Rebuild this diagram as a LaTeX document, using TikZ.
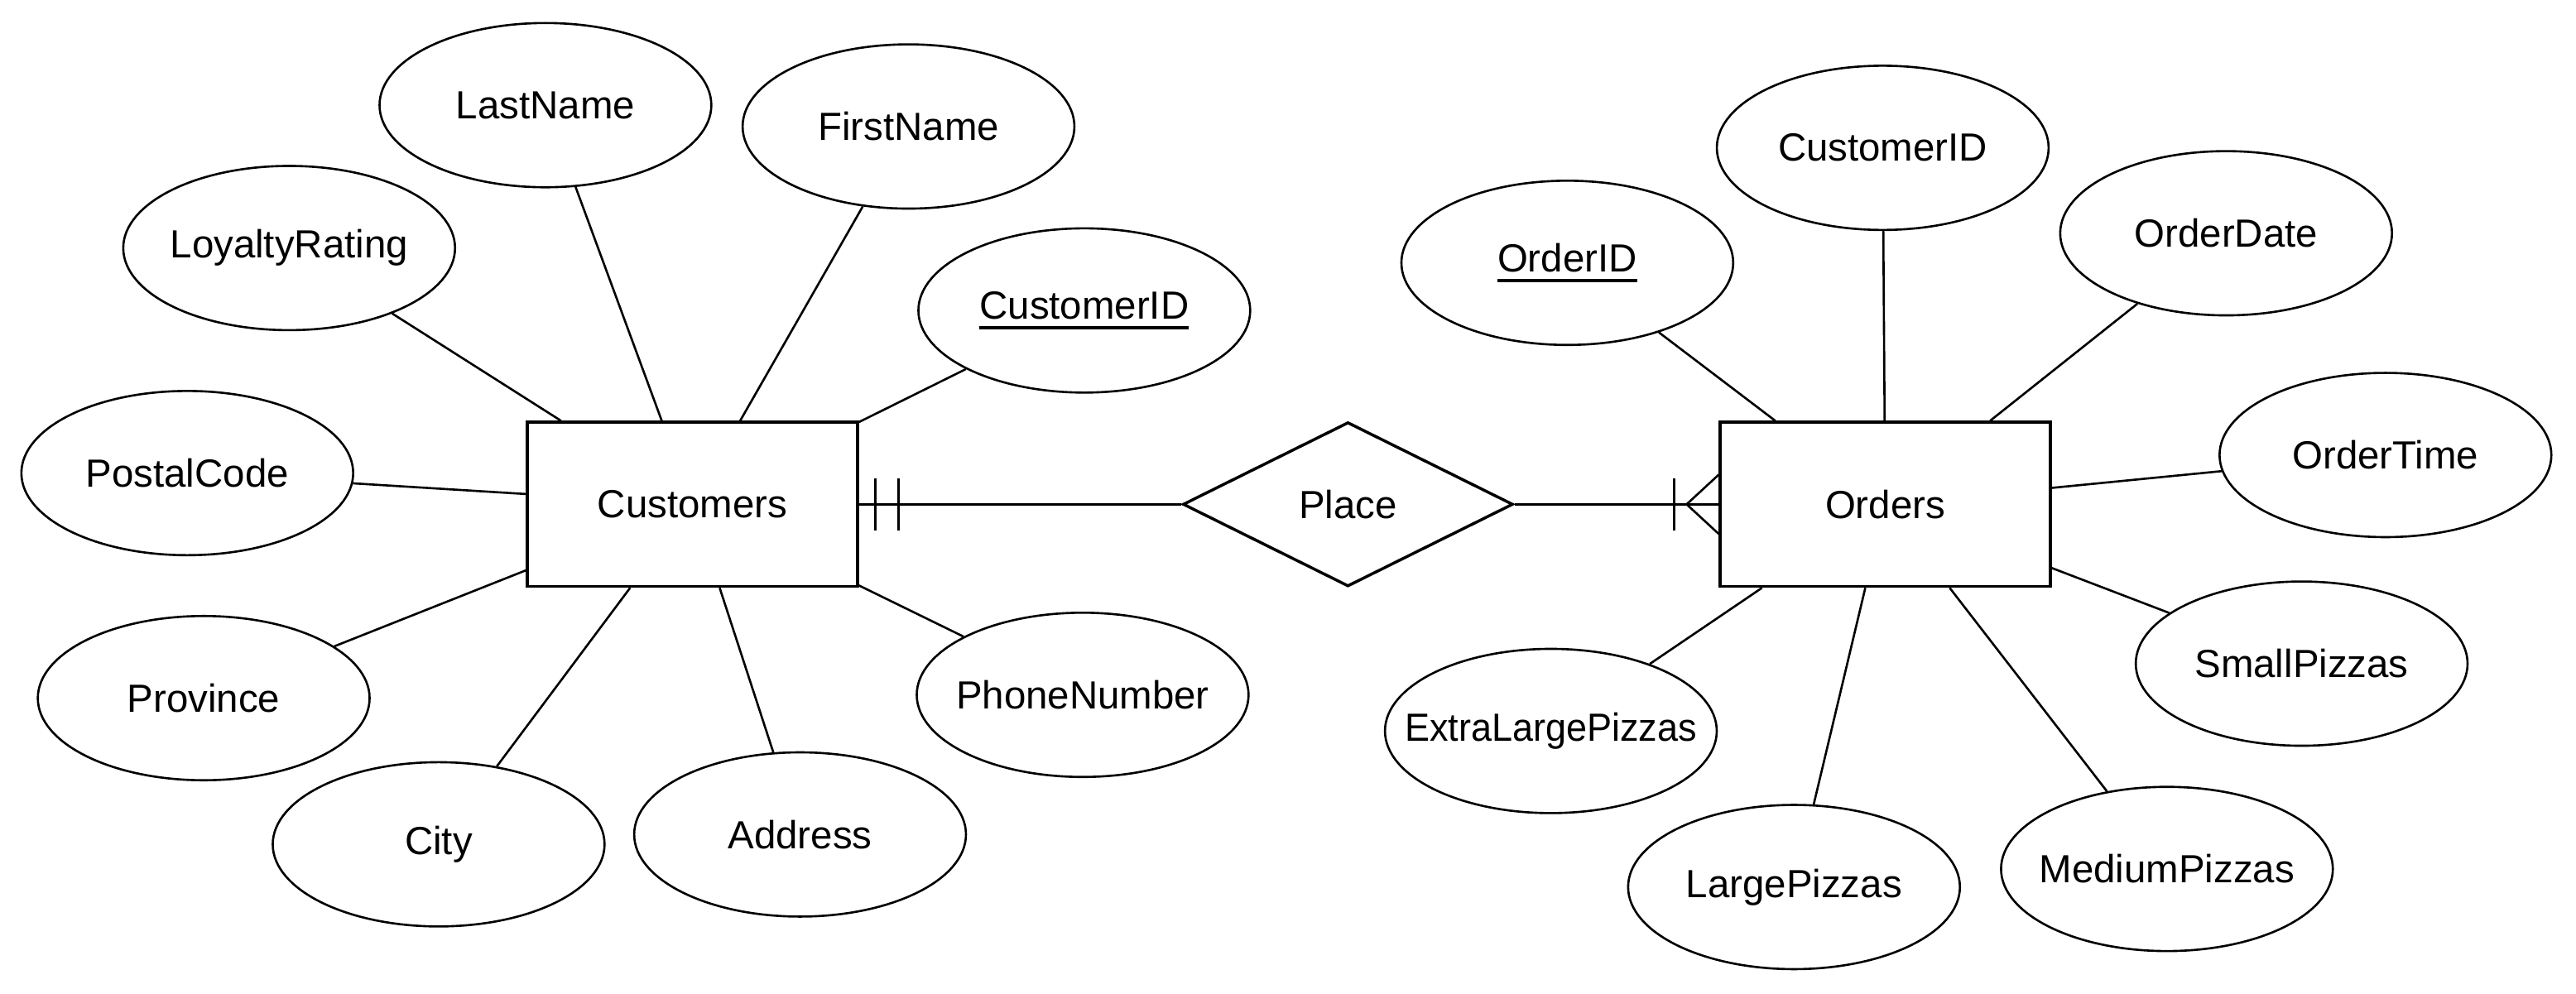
\documentclass[tikz,border=0pt]{standalone}
\usepackage{fontspec}
\setmainfont{Liberation Sans}
\usetikzlibrary{shapes.geometric,calc}
\newcommand{\keyattr}[1]{\setbox0\hbox{#1}\rlap{\rule[-3.7pt]{\wd0}{1.1pt}}\box0}
\newcommand{\zw}[1]{\makebox[0pt]{#1}}
\begin{document}
\begin{tikzpicture}[x=0.02cm,y=-0.02cm,
  every node/.style={font=\fontsize{13.6}{16}\selectfont},
  attr/.style={draw,ellipse,line width=0.75pt,minimum width=4.04cm,minimum height=2cm,inner sep=0pt,fill=white},
  entity/.style={draw,rectangle,line width=1pt,minimum width=4.02cm,minimum height=2cm,inner sep=0pt},
  rel/.style={draw,diamond,line width=1pt,minimum width=4.02cm,minimum height=2cm,inner sep=0pt,aspect=2},
  conn/.style={line width=0.75pt},
  cardmark/.style={line width=0.75pt}]
\useasboundingbox[fill=white] (0,0) rectangle (1568,605);
% entities
\node[entity] (cust) at (421.5,307) {Customers};
\node[rel] (place) at (820.5,307) {\zw{Place}};
\node[entity] (ord) at (1147.5,307) {Orders};
% customer attributes
\node[attr] (lname) at (332,64) {\zw{LastName}};
\node[attr] (fname) at (553,77) {\zw{FirstName}};
\node[attr] (loyal) at (176,151) {\zw{LoyaltyRating}};
\node[attr] (cid) at (660,189) {\zw{\keyattr{CustomerID}}};
\node[attr] (postal) at (114,288) {\zw{PostalCode}};
\node[attr] (prov) at (124,425) {\zw{Province}};
\node[attr] (city) at (267,514) {\zw{City}};
\node[attr] (addr) at (487,508) {\zw{Address}};
\node[attr] (phone) at (659,423) {\zw{PhoneNumber}};
% order attributes
\node[attr] (oid) at (954,160) {\zw{\keyattr{OrderID}}};
\node[attr] (ocid) at (1146,90) {\zw{CustomerID}};
\node[attr] (odate) at (1355,142) {\zw{OrderDate}};
\node[attr] (otime) at (1452,277) {\zw{OrderTime}};
\node[attr] (small) at (1401,404) {\zw{SmallPizzas}};
\node[attr] (medium) at (1319,529) {\zw{MediumPizzas}};
\node[attr] (large) at (1092,540) {\zw{LargePizzas}};
\node[attr] (xl) at (944,445) {\zw{\scalebox{0.95}[1]{ExtraLargePizzas}}};
% connectors
\foreach \a in {lname,fname,loyal,cid,postal,prov,city,addr,phone}
  \draw[conn] (\a) -- (cust);
\foreach \a in {oid,ocid,odate,otime,small,medium,large,xl}
  \draw[conn] (\a) -- (ord);
\draw[conn] (cust.east) -- (place.west);
\draw[conn] (place.east) -- (ord.west);
% one and only one
\draw[cardmark] ($(cust.east)+(10,-16)$) -- ++(0,32);
\draw[cardmark] ($(cust.east)+(24,-16)$) -- ++(0,32);
% one or many
\draw[cardmark] ($(ord.west)+(-27,-16)$) -- ++(0,32);
\draw[cardmark] ($(ord.west)+(0,-18)$) -- ($(ord.west)+(-19.5,0)$) -- ($(ord.west)+(0,18)$);
\end{tikzpicture}
\end{document}
